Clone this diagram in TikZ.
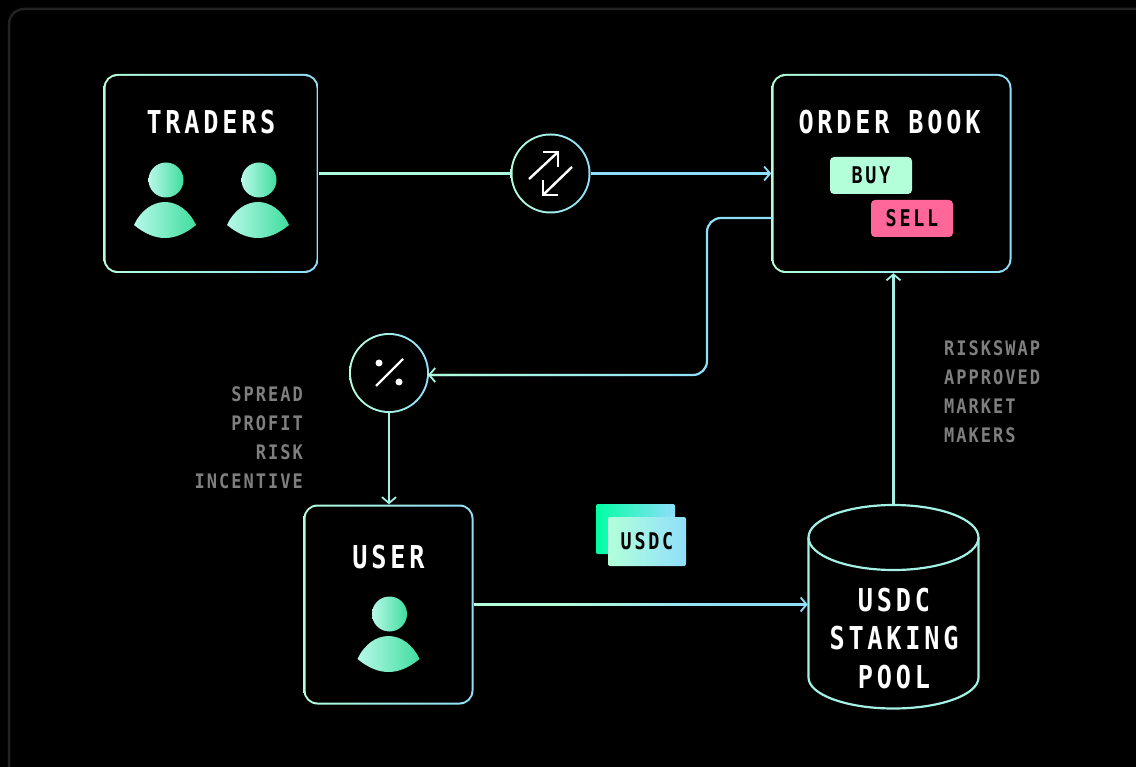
\documentclass[tikz,border=0pt]{standalone}
\usepackage{fontspec}
\usetikzlibrary{arrows.meta,fadings}
\newfontfamily\titlefont[FakeStretch=0.8,LetterSpace=12,BoldFont={DejaVu Sans Mono Bold}]{DejaVu Sans Mono}
\newfontfamily\notefont[FakeStretch=0.85,LetterSpace=10,BoldFont={DejaVu Sans Mono Bold}]{DejaVu Sans Mono}
\definecolor{mint}{HTML}{B3FFD9}
\definecolor{sky}{HTML}{8FDFFB}
\definecolor{wire}{HTML}{A3F0E4}
\definecolor{greentop}{HTML}{00FFA3}
\definecolor{pink}{HTML}{FF6699}
\definecolor{frame}{HTML}{222222}
\definecolor{hint}{HTML}{7F7F7F}
\definecolor{skinl}{HTML}{B8F9E8}
\definecolor{skinr}{HTML}{3FDD9E}
\tikzset{
  gradbox/.style={shade,left color=mint,right color=sky,rounded corners=14pt,inner sep=0pt,
    path picture={\fill[black,rounded corners=12pt]
      ([shift={(2pt,2pt)}]path picture bounding box.south west) rectangle
      ([shift={(-2pt,-2pt)}]path picture bounding box.north east);}},
  gradcirc/.style={circle,shade,left color=mint,right color=sky,inner sep=0pt,minimum size=80pt,
    path picture={\fill[black] (path picture bounding box.center) circle (38pt);}},
  title/.style={text=white,font=\titlefont\bfseries\fontsize{31.5}{38.5}\selectfont,align=center,inner sep=0pt},
  tag/.style={text=black,font=\titlefont\bfseries\fontsize{23}{28}\selectfont,rounded corners=4pt,
    minimum width=82pt,minimum height=37pt,inner sep=0pt},
  hintlist/.style={text=hint,font=\notefont\bfseries\fontsize{20}{29}\selectfont,inner sep=0pt},
  link/.style={line width=2.6pt,-{Straight Barb[length=6pt,width=14pt,line width=1.8pt]}},
  minttip/.style={line width=2.2pt,-{Straight Barb[length=6pt,width=14pt,line width=1.8pt,color=mint!80!sky]}},
  fadeoff/.style={mint,path fading=east},
  poolline/.style={wire,line width=2.2pt},
  icon/.style={white,line width=2.4pt},
  person/.pic={
    \shade[left color=skinl,right color=skinr] (1,0) circle (17.5pt);
    \shade[left color=skinl,right color=skinr] (-31,45)
      .. controls (-24,30) and (-12,22) .. (0,22)
      .. controls (12,22) and (24,30) .. (31,45)
      .. controls (20,54) and (10,58) .. (0,58)
      .. controls (-10,58) and (-20,54) .. (-31,45) -- cycle;
  }
}
\begin{document}
\begin{tikzpicture}[x=1pt,y=-1pt]
  \fill[black] (0,0) rectangle (1136,767);
  \useasboundingbox (0,0) rectangle (1136,767);
  \clip (0,0) rectangle (1136,767);
  \draw[frame,line width=2.5pt,rounded corners=15pt] (9,800) -- (9,9) -- (1200,9);

  % boxes
  \node[gradbox,minimum width=215pt,minimum height=199pt] (traders) at (211,173.5) {};
  \node[gradbox,minimum width=240pt,minimum height=199pt] (book) at (891.5,173.5) {};
  \node[gradbox,minimum width=170pt,minimum height=200pt] (user) at (388.5,604.5) {};
  \node[gradcirc] (swap) at (550.5,173.5) {};
  \node[gradcirc] (pct) at (389,373) {};
  \node[inner sep=0pt,minimum width=171pt,minimum height=205pt] (pool) at (893.5,607) {};

  % pool outline
  \draw[poolline] (893.5,537.5) ellipse (85pt and 32.5pt);
  \draw[poolline] (808.5,537.5) -- (808.5,677.5)
    arc[start angle=180,end angle=360,x radius=85pt,y radius=31pt] -- (978.5,537.5);

  % titles
  \node[title] (traderstitle) at (211,122) {TRADERS};
  \node[title] (booktitle) at (889.5,122) {ORDER BOOK};
  \node[title] (usertitle) at (388.5,557) {USER};
  \node[title] (pooltitle) at (894,638.5) {USDC\\STAKING\\POOL};

  % order tags
  \node[tag,fill=mint] (buy) at (871,175.5) {BUY};
  \node[tag,fill=pink] (sell) at (912,218.5) {SELL};

  % usdc notes
  \shade[left color=greentop,right color=sky,rounded corners=2pt] (596,504) rectangle (675,554);
  \node[tag,left color=mint,right color=sky,rounded corners=2pt,minimum width=78pt,minimum height=49pt] (note) at (647,541.5) {\raisebox{-1.5pt}{USDC}};

  % people
  \pic at (165,180) {person};
  \pic at (258,180) {person};
  \pic at (388.5,614) {person};

  % connectors
  \coordinate (bookout) at (772,218);
  \coordinate (elbow) at (707,375);
  \coordinate (pctin) at (428,375);
  \draw[line width=2.8pt,color=mint!85!sky] (traders.east) -- (swap.west);
  \draw[link,sky] (swap.east) -- (book.west);
  \draw[minttip,rounded corners=14pt,sky] (bookout) -| (elbow) -- (pctin);
  \draw[fadeoff,line width=2.2pt,rounded corners=14pt] (elbow) ++(0,-20) |- (pctin);
  \draw[link,wire] (pct.south) -- (pct.south |- user.north);
  \draw[link,wire] (pool.north) -- (pool.north |- book.south);
  \draw[link,sky] (user.east) -- (user.east -| pool.west);
  \draw[fadeoff,line width=2.6pt,fit fading=false,fading transform={shift={(640,604)},xscale=3.4}] (user.east) -- (user.east -| pool.west);

  % icons
  \draw[icon] (529,179) -- (558,152);
  \draw[icon] (543,152) -- (558,152) -- (558,167);
  \draw[icon] (572,167) -- (543,195);
  \draw[icon] (543,180) -- (543,195) -- (558,195);
  \draw[icon] (403,359) -- (376,386);
  \fill[white] (379,363) circle (3.5pt) (399,382) circle (3.5pt);

  % side notes
  \node[hintlist,anchor=north east,align=right] (costs) at (303,386.5) {SPREAD\\PROFIT\\RISK\\INCENTIVE};
  \node[hintlist,anchor=north west,align=left] (makers) at (944,340.5) {RISKSWAP\\APPROVED\\MARKET\\MAKERS};
\end{tikzpicture}
\end{document}
